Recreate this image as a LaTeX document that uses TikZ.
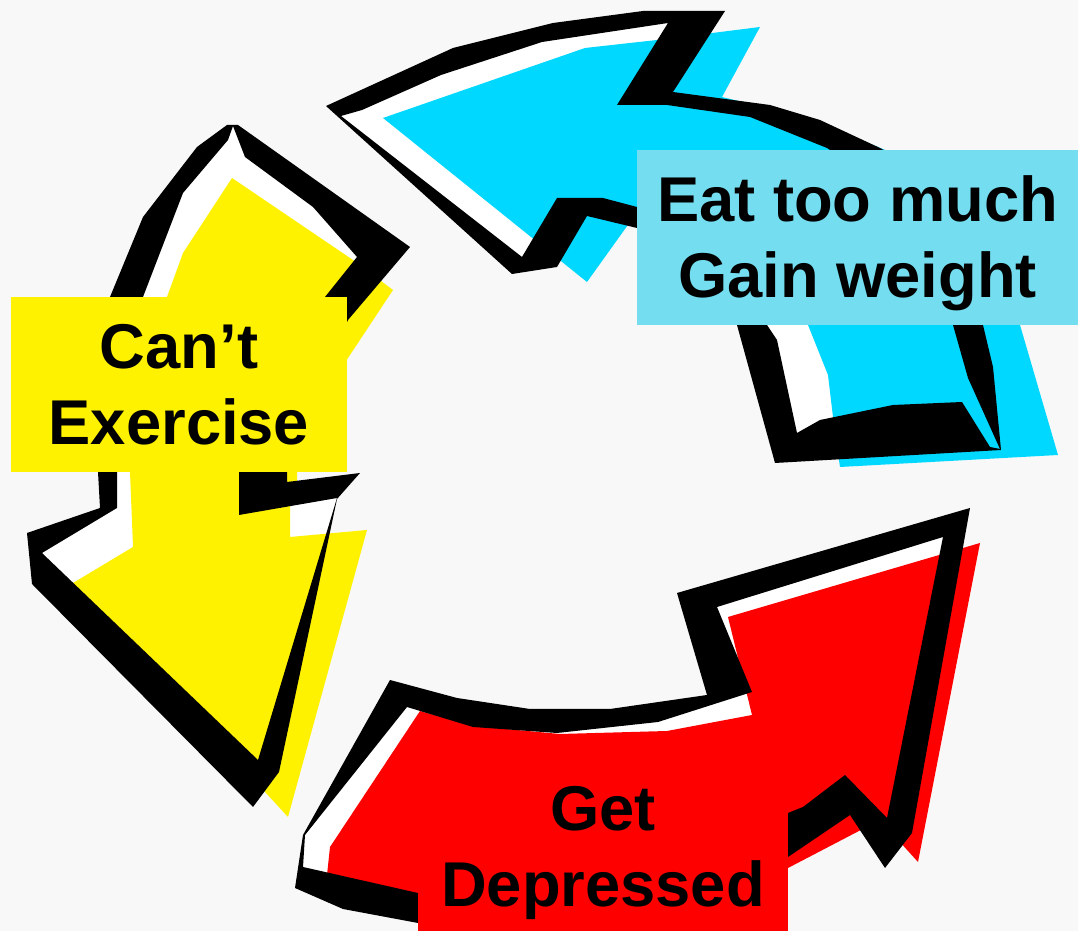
\documentclass[tikz,border=0pt]{standalone}
\usepackage{fontspec}
\setmainfont{Liberation Sans}
\definecolor{arrowcyan}{RGB}{0,216,255}
\definecolor{boxcyan}{RGB}{116,222,240}
\definecolor{paper}{RGB}{248,248,248}
\def\cyanout{(326,106) -- (453,48) -- (553,23) -- (643,11) -- (725,11) -- (673,92) -- (770,105) -- (820,120) -- (880,148) -- (935,180) -- (968,250) -- (983,325) -- (993,367) -- (1001,450) -- (775,463) -- (737,325) -- (705,248) -- (637,228) -- (587,216) -- (557,267) -- (512,274) -- cycle}
\def\cyanin{(341,116) -- (362,110) -- (441,75) -- (542,42) -- (668,23) -- (617,105) -- (667,105) -- (750,117) -- (827,148) -- (890,190) -- (935,255) -- (953,325) -- (968,378) -- (1000,449) -- (990,447) -- (962,402) -- (893,405) -- (820,420) -- (797,433) -- (777,340) -- (767,325) -- (725,240) -- (637,207) -- (603,198) -- (557,198) -- (522,257) -- cycle}
\def\yellowout{(227,125) -- (238,125) -- (410,247) -- (348,320) -- (310,400) -- (287,472) -- (287,482) -- (360,473) -- (337,499) -- (279,772) -- (253,807) -- (32,584) -- (27,533) -- (100,508) -- (98,472) -- (103,385) -- (110,297) -- (143,217) -- (197,147) -- cycle}
\def\yellowin{(233,126) -- (245,157) -- (313,207) -- (357,257) -- (325,297) -- (275,385) -- (239,472) -- (239,515) -- (337,498) -- (258,760) -- (42,553) -- (117,508) -- (117,472) -- (125,385) -- (143,297) -- (183,193) -- (228,140) -- cycle}
\def\redout{(390,680) -- (457,698) -- (530,709) -- (610,709) -- (707,695) -- (677,593) -- (970,508) -- (912,833) -- (885,868) -- (850,815) -- (788,857) -- (600,895) -- (418,923) -- (343,909) -- (295,888) -- (303,835) -- cycle}
\def\redin{(407,707) -- (473,727) -- (557,733) -- (658,722) -- (752,692) -- (717,607) -- (943,537) -- (887,818) -- (845,775) -- (803,807) -- (788,813) -- (600,860) -- (418,893) -- (303,867) -- (305,835) -- cycle}
\begin{document}
\begin{tikzpicture}[x=0.01cm,y=-0.01cm,
  boxlabel/.style={align=center,inner sep=0pt,font=\bfseries\fontsize{18}{21.6}\selectfont}]
  \useasboundingbox (0,0) rectangle (1078,931);
  \fill[paper] (0,0) rectangle (1078,931);

  \fill[white] \cyanin;
  \fill[arrowcyan] (383,118) -- (585,48) -- (657,40) -- (760,27) -- (722,97) -- (780,111) -- (830,127) -- (890,152) -- (965,200) -- (1000,260) -- (1020,325) -- (1058,455) -- (840,467) -- (833,417) -- (828,375) -- (808,325) -- (760,265) -- (700,240) -- (630,222) -- (587,282) -- cycle;
  \fill[black,even odd rule] \cyanout \cyanin;

  \fill[white] \yellowin;
  \fill[yellow] (232,178) -- (353,260) -- (393,290) -- (348,358) -- (300,440) -- (297,472) -- (297,482) -- (290,490) -- (290,537) -- (367,530) -- (288,817) -- (73,583) -- (133,547) -- (130,472) -- (150,385) -- (167,297) -- (183,253) -- cycle;
  \fill[black,even odd rule] \yellowout \yellowin;

  \fill[white] \redin;
  \fill[red] (420,711) -- (473,726) -- (560,734) -- (667,731) -- (752,715) -- (728,617) -- (980,543) -- (918,862) -- (880,820) -- (788,868) -- (600,890) -- (418,900) -- (327,875) -- (330,847) -- cycle;
  \fill[black,even odd rule] \redout \redin;

  \node[boxlabel,fill=boxcyan,minimum width=4.41cm,minimum height=1.75cm] (eat) at (857.5,237.5) {\rule{0pt}{16.5pt}Eat too much\\Gain weight};
  \node[boxlabel,fill=yellow,minimum width=3.36cm,minimum height=1.75cm] (exercise) at (179,384.5) {Can’t\\Exercise};
  \node[boxlabel,fill=red,minimum width=3.70cm,minimum height=1.77cm] (depressed) at (603,846.5) {\rule{0pt}{16.5pt}Get\\Depressed};
\end{tikzpicture}
\end{document}
